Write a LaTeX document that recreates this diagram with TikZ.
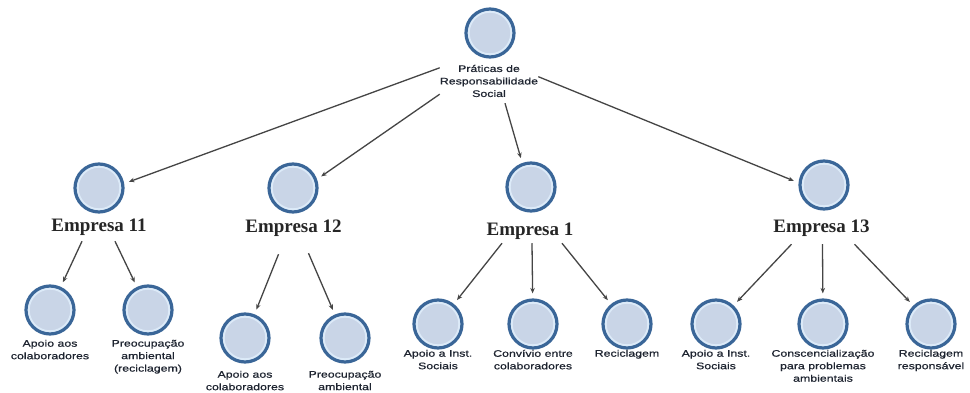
\documentclass[tikz,border=0pt]{standalone}
\usepackage{fontspec}
\newfontfamily\lblfont[FakeStretch=1.3,FakeBold=0.6]{Liberation Sans}
\newfontfamily\empfont{Liberation Serif}
\usetikzlibrary{arrows.meta,positioning,calc}
\definecolor{ringblue}{HTML}{3A6698}
\definecolor{ringlight}{HTML}{DCEAF8}
\definecolor{bubfill}{HTML}{C9D5E7}
\definecolor{linkgray}{HTML}{454545}
\definecolor{txtdark}{HTML}{1E2430}

\begin{document}
\begin{tikzpicture}[x=1pt,y=-1pt,
  bubble/.style={circle, minimum size=48pt, inner sep=0pt, draw=ringblue,
    line width=3.2pt, fill=bubfill,
    path picture={\draw[ringlight,line width=2.6pt]
      (path picture bounding box.center) circle (21.6pt);}},
  leaftxt/.style={font=\lblfont\fontsize{9.5}{12.5}\selectfont, align=center,
    inner sep=0pt, text=txtdark},
  emptxt/.style={font=\empfont\bfseries\fontsize{19}{22}\selectfont,
    inner sep=0pt, text=black!85},
  link/.style={draw=linkgray, line width=1.3pt,
    -{Stealth[length=5.5pt,width=4.5pt]}, shorten >=5pt}]

% page frame
\fill[white] (0,0) rectangle (970,393);
\useasboundingbox (0,0) rectangle (970,393);

% root
\node[bubble] (root) at (490,33) {};
\node[leaftxt] (rootl) at (489,81) {Práticas de\\Responsabilidade\\Social};

% companies
\node[bubble] (e11) at (99,188) {};
\node[emptxt, anchor=base] (e11l) at (99,232) {Empresa 11};
\node[bubble] (e12) at (293,188) {};
\node[emptxt, anchor=base] (e12l) at (293.5,233) {Empresa 12};
\node[bubble] (e1) at (531,187) {};
\node[emptxt, anchor=base] (e1l) at (530,235) {Empresa 1};
\node[bubble] (e13) at (824,185) {};
\node[emptxt, anchor=base] (e13l) at (821.5,233) {Empresa 13};

% practices per company
\node[bubble] (l11a) at (50,310) {};
\node[leaftxt, below=4pt of l11a] (t11a) {Apoio aos\\colaboradores};
\node[bubble] (l11b) at (148,310) {};
\node[leaftxt, below=4pt of l11b] (t11b) {Preocupação\\ambiental\\(reciclagem)};

\node[bubble] (l12a) at (245,338) {};
\node[leaftxt, below=7pt of l12a] (t12a) {Apoio aos\\colaboradores};
\node[bubble] (l12b) at (345,338) {};
\node[leaftxt, below=7pt of l12b] (t12b) {Preocupação\\ambiental};

\node[bubble] (l1a) at (438,324) {};
\node[leaftxt, below=0pt of l1a] (t1a) {Apoio a Inst.\\Sociais};
\node[bubble] (l1b) at (533,324) {};
\node[leaftxt, below=0pt of l1b] (t1b) {Convívio entre\\colaboradores};
\node[bubble] (l1c) at (627,324) {};
\node[leaftxt, below=0pt of l1c] (t1c) {Reciclagem};

\node[bubble] (l13a) at (716,324) {};
\node[leaftxt, below=0pt of l13a] (t13a) {Apoio a Inst.\\Sociais};
\node[bubble] (l13b) at (823,324) {};
\node[leaftxt, below=0pt of l13b] (t13b) {Conscencialização\\para problemas\\ambientais};
\node[bubble] (l13c) at (931,324) {};
\node[leaftxt, below=0pt of l13c] (t13c) {Reciclagem\\responsável};

% root to companies
\draw[link] (rootl.165) -- (e11.10);
\draw[link] (rootl.195) -- (e12.20);
\draw[link] ([shift={(16,6)}]rootl.south) -- (e1.110);
\draw[link] (rootl.5) -- (e13.175);

% companies to practices
\draw[link] ([shift={(-17,5)}]e11l.south) -- (l11a);
\draw[link] ([shift={(16,5)}]e11l.south) -- (l11b);
\draw[link] ([shift={(-15,17)}]e12l.south) -- (l12a);
\draw[link] ([shift={(15,16)}]e12l.south) -- (l12b);
\draw[link] ([shift={(-28,4)}]e1l.south) -- (l1a);
\draw[link] ([shift={(2,4)}]e1l.south) -- (l1b);
\draw[link] ([shift={(32,4)}]e1l.south) -- (l1c);
\draw[link] ([shift={(-30,7)}]e13l.south) -- (l13a);
\draw[link] ([shift={(1,7)}]e13l.south) -- (l13b);
\draw[link] ([shift={(33,7)}]e13l.south) -- (l13c);
\end{tikzpicture}
\end{document}
